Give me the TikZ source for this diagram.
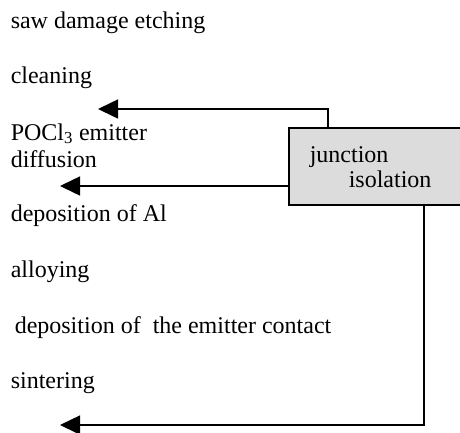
\documentclass[tikz,border=0pt]{standalone}
\usepackage{fontspec}
\setmainfont{Liberation Serif}
\usetikzlibrary{arrows.meta}
\definecolor{boxgray}{HTML}{DCDCDC}
\begin{document}
\begin{tikzpicture}[x=1bp,y=-1bp,line width=1.5bp,font=\fontsize{24bp}{28bp}\selectfont,>={Triangle[length=20bp,width=19bp]},
	lbl/.style={anchor=base west,inner sep=0pt},
	isobox/.style={draw,fill=boxgray,anchor=north west,minimum width=185bp,minimum height=77bp,inner sep=0pt,outer sep=0pt}]
		\clip(0,0) rectangle (460,432);
		% process steps
		\node[lbl] (saw) at (10,28) {saw damage etching};
		\node[lbl] (clean) at (10,83) {cleaning};
		\node[lbl] (pocl) at (10,140) {POCl\textsubscript{3} emitter};
		\node[lbl] (diff) at (10,167) {diffusion};
		\node[lbl] (depal) at (10,221) {deposition of Al};
		\node[lbl] (alloy) at (10,277) {alloying};
		\node[lbl] (depec) at (14,333) {deposition of\ \ the emitter contact};
		\node[lbl] (sinter) at (10,388) {sintering};
		% junction isolation box
		\node[isobox] (junc) at (289,128) {};
		\node[lbl] (juncA) at (309,162) {junction};
		\node[lbl] (juncB) at (348,187) {isolation};
		\coordinate (tipa) at (98,109);
		\coordinate (tipb) at (60,186);
		\coordinate (tipc) at (60,425);
		\draw[->]([xshift=39bp]junc.north west)|-(tipa);
		\draw[->](tipb-|junc.west)--(tipb);
		\draw[->]([xshift=135bp]junc.south west)|-(tipc);
	\end{tikzpicture}
\end{document}
